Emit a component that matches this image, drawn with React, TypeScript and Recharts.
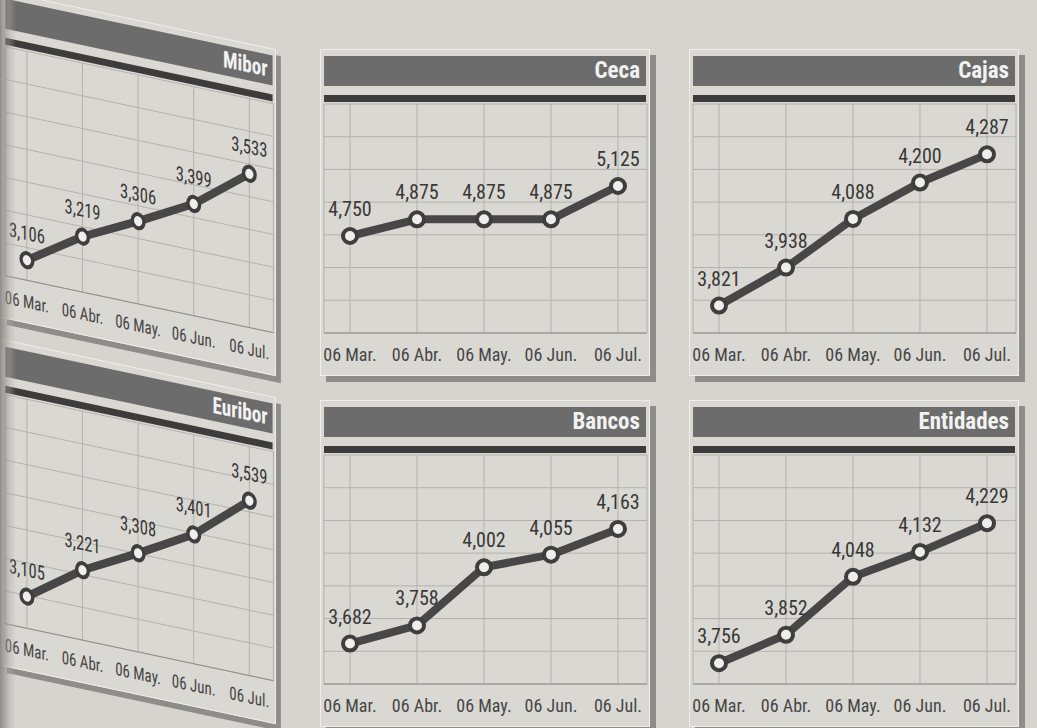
import { LineChart, Line, XAxis, YAxis, CartesianGrid, LabelList } from "recharts";

const months = ["06 Mar.", "06 Abr.", "06 May.", "06 Jun.", "06 Jul."];
const mibor = [3.106, 3.219, 3.306, 3.399, 3.533];
const ceca = [4.75, 4.875, 4.875, 4.875, 5.125];
const cajas = [3.821, 3.938, 4.088, 4.2, 4.287];
const euribor = [3.105, 3.221, 3.308, 3.401, 3.539];
const bancos = [3.682, 3.758, 4.002, 4.055, 4.163];
const entidades = [3.756, 3.852, 4.048, 4.132, 4.229];

const FONT = '"Liberation Sans Narrow", "Roboto Condensed", "Liberation Sans", sans-serif';
const fmt = (v: any) => Number(v).toFixed(3).replace(".", ",");

type PanelProps = {
  title: string;
  values: number[];
  domain: [number, number];
  left: number;
  top: number;
  skew?: boolean;
};

function Panel({ title, values, domain, left, top, skew }: PanelProps) {
  const data = months.map((m, i) => ({ month: m, value: values[i] }));
  const [lo, hi] = domain;
  const gridTicks = Array.from({ length: 8 }, (_, i) => lo + ((hi - lo) * i) / 7);
  return (
    <div
      style={{
        position: "absolute",
        left,
        top,
        width: 330,
        height: 327,
        boxSizing: "border-box",
        border: "1.5px solid #efeeea",
        background: "#dad8d3",
        boxShadow: "6px 6px 0 #8e8d89",
        transformOrigin: "0 0",
        transform: skew ? "skewY(12deg) scaleX(0.83)" : undefined,
      }}
    >
      <LineChart width={328} height={325} data={data} margin={{ top: 54, right: 2, left: 3, bottom: 0 }}>
        <CartesianGrid stroke="#b2b1ad" strokeWidth={1} />
        <XAxis
          dataKey="month"
          padding={{ left: 26, right: 29 }}
          height={42}
          tickLine={false}
          tickMargin={9}
          axisLine={{ stroke: "#8f8e8a" }}
          tick={{ fill: "#464646", fontSize: 18, fontFamily: FONT }}
          interval={0}
        />
        <YAxis hide domain={domain} ticks={gridTicks} type="number" allowDataOverflow />
        <Line
          dataKey="value"
          stroke="#474747"
          strokeWidth={8}
          strokeLinejoin="round"
          dot={{ r: 7, fill: "#eeeeec", stroke: "#3e3e3e", strokeWidth: 4 }}
          isAnimationActive={false}
        >
          <LabelList dataKey="value" position="top" offset={20} formatter={fmt} fill="#383838" fontSize={20} fontFamily={FONT} />
        </Line>
      </LineChart>
      <div
        style={{
          position: "absolute",
          top: 6,
          left: 3,
          right: 3,
          height: 30,
          background: "#6c6c6c",
          color: "#f2f2f0",
          fontFamily: FONT,
          fontWeight: "bold",
          fontSize: 23,
          lineHeight: "30px",
          textAlign: "right",
          paddingRight: 6,
          boxSizing: "border-box",
        }}
      >
        {title}
      </div>
      <div style={{ position: "absolute", top: 45, left: 3, right: 3, height: 7, background: "#3c3c3c" }} />
    </div>
  );
}

export default function App() {
  return (
    <div
      style={{
        position: "absolute",
        left: 0,
        top: 0,
        width: 1037,
        height: 728,
        overflow: "hidden",
        background: "#d6d4cf",
      }}
    >
      <Panel title="Mibor" values={mibor} domain={[3.0417, 3.7733]} left={2} top={-9} skew />
      <Panel title="Ceca" values={ceca} domain={[4.0225, 5.74]} left={320} top={49} />
      <Panel title="Cajas" values={cajas} domain={[3.7365, 4.442]} left={689} top={49} />
      <Panel title="Euribor" values={euribor} domain={[3.009, 3.703]} left={2} top={339} skew />
      <Panel title="Bancos" values={bancos} domain={[3.5125, 4.4729]} left={320} top={400} />
      <Panel title="Entidades" values={entidades} domain={[3.6857, 4.4596]} left={689} top={400} />
      <div
        style={{
          position: "absolute",
          left: 0,
          top: 0,
          width: 16,
          height: 728,
          background: "linear-gradient(to right, rgba(120,118,114,0.75), rgba(170,168,163,0.4) 60%, rgba(214,212,207,0))",
        }}
      />
    </div>
  );
}
